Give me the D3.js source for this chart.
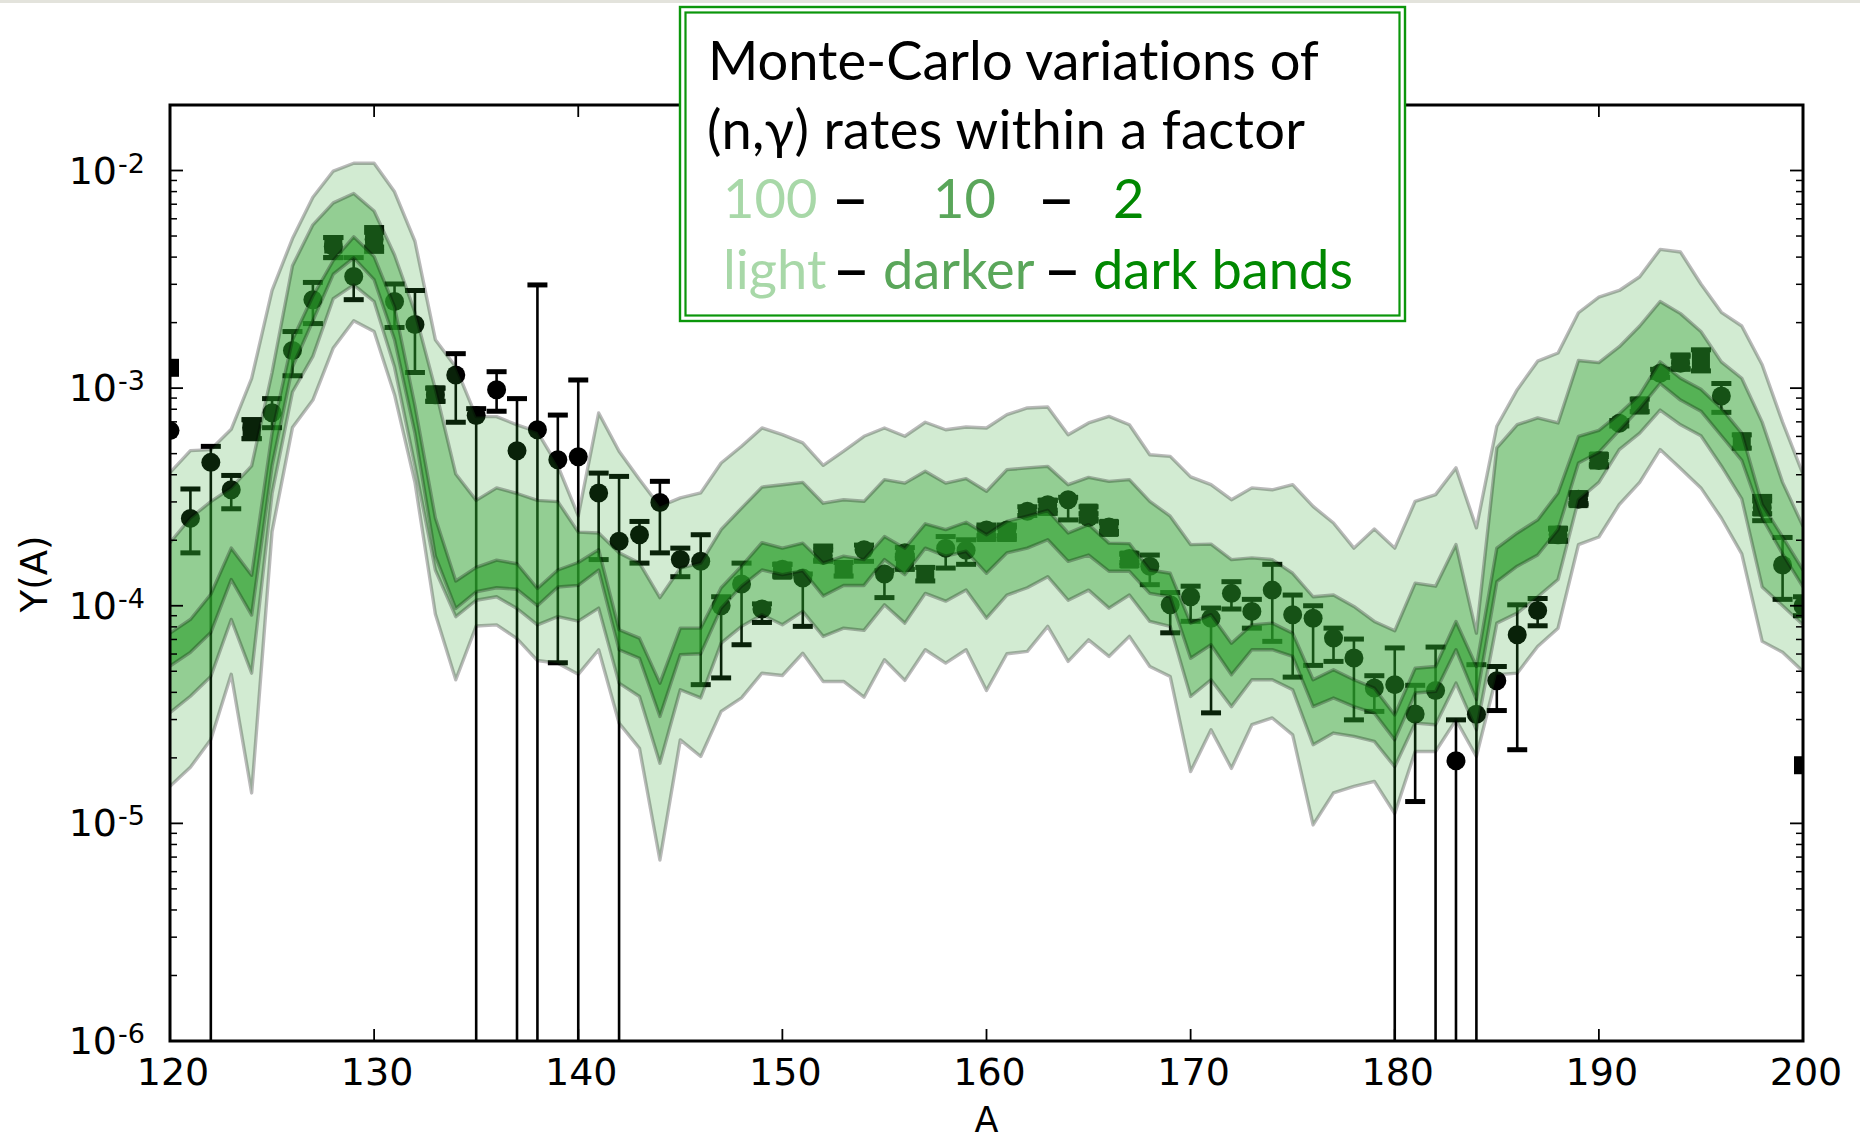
<!DOCTYPE html>
<html><head><meta charset="utf-8">
<script src="https://cdn.jsdelivr.net/npm/d3@7"></script>
<style>html,body{margin:0;padding:0;background:#fff;} svg{display:block}</style>
</head><body>
<svg id="chart" width="1860" height="1140"></svg>
<script>
// ---------------- data ----------------
const massNumbers = [120,121,122,123,124,125,126,127,128,129,130,131,132,133,134,135,136,137,138,139,140,
141,142,143,144,145,146,147,148,149,150,151,152,153,154,155,156,157,158,159,160,
161,162,163,164,165,166,167,168,169,170,171,172,173,174,175,176,177,178,179,180,
181,182,183,184,185,186,187,188,189,190,191,192,193,194,195,196,197,198,199,200];

// factor-100 band (light)
const lightUpper = [4.09e-4,5.16e-4,5.22e-4,6.47e-4,1.11e-3,2.81e-3,4.87e-3,7.53e-3,9.94e-3,1.08e-2,1.08e-2,
7.98e-3,4.73e-3,1.67e-3,1.25e-3,7.40e-4,7.40e-4,6.78e-4,6.29e-4,4.39e-4,2.59e-4,
7.69e-4,5.13e-4,3.80e-4,2.86e-4,3.13e-4,3.30e-4,4.53e-4,5.41e-4,6.56e-4,6.11e-4,
5.60e-4,4.42e-4,5.13e-4,6.01e-4,6.56e-4,6.01e-4,6.97e-4,6.44e-4,6.63e-4,6.56e-4,
7.55e-4,8.11e-4,8.19e-4,6.11e-4,6.92e-4,7.42e-4,6.79e-4,4.94e-4,4.86e-4,3.91e-4,
3.60e-4,3.07e-4,3.48e-4,3.41e-4,3.60e-4,2.86e-4,2.40e-4,1.84e-4,2.25e-4,1.84e-4,
3.02e-4,3.24e-4,4.30e-4,2.28e-4,6.68e-4,9.84e-4,1.33e-3,1.45e-3,2.22e-3,2.62e-3,
2.81e-3,3.25e-3,4.34e-3,4.22e-3,3.01e-3,2.23e-3,1.93e-3,1.28e-3,6.98e-4,4.03e-4];
const lightLower = [1.48e-5,1.81e-5,2.43e-5,4.84e-5,1.38e-5,2.19e-4,6.59e-4,8.81e-4,1.53e-3,2.04e-3,1.82e-3,
9.33e-4,3.69e-4,9.17e-5,4.57e-5,8.07e-5,8.17e-5,7.06e-5,5.60e-5,5.44e-5,4.84e-5,
6.28e-5,2.89e-5,2.21e-5,6.79e-6,2.42e-5,2.03e-5,3.27e-5,3.77e-5,4.90e-5,4.78e-5,
6.05e-5,4.49e-5,4.49e-5,3.80e-5,5.65e-5,4.54e-5,6.28e-5,5.45e-5,6.28e-5,4.08e-5,
6.02e-5,6.17e-5,8.04e-5,5.55e-5,6.97e-5,5.85e-5,7.23e-5,5.26e-5,4.73e-5,1.73e-5,
2.69e-5,1.79e-5,2.84e-5,3.05e-5,2.55e-5,9.84e-6,1.38e-5,1.48e-5,1.56e-5,1.11e-5,
2.14e-5,2.14e-5,2.99e-5,2.03e-5,4.82e-5,4.90e-5,6.50e-5,7.89e-5,1.91e-4,2.07e-4,
2.92e-4,3.69e-4,5.22e-4,4.27e-4,3.48e-4,2.53e-4,1.73e-4,6.86e-5,6.11e-5,4.99e-5];
// factor-10 band (darker)
const darkerUpper = [1.95e-4,2.53e-4,3.01e-4,3.48e-4,4.39e-4,1.18e-3,3.65e-3,5.63e-3,7.10e-3,7.84e-3,6.51e-3,
4.09e-3,2.23e-3,9.89e-4,4.03e-4,3.05e-4,3.48e-4,3.28e-4,3.05e-4,3.01e-4,2.18e-4,
2.16e-4,1.75e-4,1.57e-4,1.09e-4,1.49e-4,1.57e-4,2.24e-4,2.81e-4,3.51e-4,3.60e-4,
3.69e-4,2.96e-4,3.07e-4,3.02e-4,3.80e-4,3.66e-4,4.15e-4,3.66e-4,3.84e-4,3.36e-4,
4.22e-4,4.30e-4,4.37e-4,3.60e-4,3.89e-4,3.73e-4,3.80e-4,3.02e-4,2.58e-4,1.91e-4,
1.92e-4,1.63e-4,1.66e-4,1.63e-4,1.41e-4,1.10e-4,1.12e-4,9.93e-5,8.47e-5,7.67e-5,
1.27e-4,1.23e-4,1.91e-4,7.48e-5,5.31e-4,6.79e-4,7.30e-4,6.92e-4,1.34e-3,1.31e-3,
1.55e-3,1.93e-3,2.50e-3,2.20e-3,1.82e-3,1.32e-3,1.11e-3,6.98e-4,3.69e-4,2.32e-4];
const darkerLower = [3.23e-5,3.84e-5,4.73e-5,8.65e-5,4.90e-5,3.28e-4,9.60e-4,1.40e-3,2.58e-3,2.98e-3,2.50e-3,
1.25e-3,4.39e-4,1.46e-4,8.91e-5,1.06e-4,1.10e-4,9.71e-5,8.17e-5,8.91e-5,8.50e-5,
9.75e-5,4.41e-5,3.83e-5,1.89e-5,4.11e-5,3.77e-5,6.73e-5,8.04e-5,9.10e-5,8.18e-5,
9.42e-5,7.23e-5,7.89e-5,7.71e-5,1.01e-4,8.32e-5,1.14e-4,1.05e-4,1.18e-4,8.77e-5,
1.12e-4,1.21e-4,1.36e-4,1.06e-4,1.18e-4,9.75e-5,1.12e-4,8.47e-5,8.04e-5,3.83e-5,
4.57e-5,3.44e-5,4.57e-5,4.57e-5,4.11e-5,2.30e-5,2.60e-5,2.51e-5,2.38e-5,1.82e-5,
2.89e-5,2.84e-5,4.41e-5,2.69e-5,8.32e-5,9.25e-5,1.10e-4,1.32e-4,3.07e-4,3.69e-4,
5.22e-4,6.21e-4,7.93e-4,6.78e-4,6.04e-4,4.39e-4,3.10e-4,1.22e-4,1.00e-4,8.17e-5];
// factor-2 band (dark)
const darkUpper = [7.48e-5,8.65e-5,1.13e-4,1.84e-4,1.38e-4,6.21e-4,1.67e-3,2.65e-3,3.86e-3,4.96e-3,4.02e-3,
2.36e-3,8.30e-4,2.53e-4,1.30e-4,1.50e-4,1.62e-4,1.56e-4,1.20e-4,1.46e-4,1.58e-4,
1.81e-4,7.76e-5,7.10e-5,4.41e-5,7.89e-5,7.89e-5,1.21e-4,1.52e-4,1.95e-4,1.84e-4,
1.94e-4,1.57e-4,1.69e-4,1.63e-4,2.08e-4,1.84e-4,2.38e-4,2.24e-4,2.42e-4,2.12e-4,
2.44e-4,2.58e-4,2.74e-4,2.16e-4,2.36e-4,1.94e-4,1.93e-4,1.46e-4,1.41e-4,8.32e-5,
9.10e-5,6.73e-5,8.17e-5,8.32e-5,7.48e-5,4.57e-5,5.08e-5,4.57e-5,4.18e-5,3.15e-5,
5.16e-5,5.26e-5,8.47e-5,5.26e-5,1.84e-4,2.16e-4,2.48e-4,3.30e-4,6.00e-4,6.40e-4,
7.62e-4,9.33e-4,1.32e-3,1.11e-3,9.89e-4,8.07e-4,6.21e-4,2.92e-4,2.07e-4,1.46e-4];
const darkLower = [5.28e-5,6.11e-5,7.53e-5,1.32e-4,9.06e-5,4.39e-4,1.25e-3,2.04e-3,3.34e-3,3.97e-3,3.15e-3,
1.67e-3,6.21e-4,1.69e-4,9.71e-5,1.16e-4,1.21e-4,1.19e-4,1.00e-4,1.22e-4,1.24e-4,
1.46e-4,6.28e-5,5.74e-5,3.10e-5,5.96e-5,6.02e-5,9.75e-5,1.23e-4,1.46e-4,1.39e-4,
1.45e-4,1.11e-4,1.24e-4,1.24e-4,1.63e-4,1.39e-4,1.84e-4,1.69e-4,1.78e-4,1.41e-4,
1.75e-4,1.84e-4,2.01e-4,1.60e-4,1.71e-4,1.44e-4,1.44e-4,1.14e-4,1.10e-4,5.74e-5,
6.62e-5,4.82e-5,6.28e-5,6.28e-5,5.85e-5,3.44e-5,3.77e-5,3.44e-5,3.21e-5,2.42e-5,
3.97e-5,4.04e-5,6.28e-5,3.70e-5,1.29e-4,1.52e-4,1.71e-4,2.24e-4,4.53e-4,5.07e-4,
6.40e-4,8.07e-4,1.05e-3,8.81e-4,7.84e-4,6.04e-4,4.66e-4,2.53e-4,1.73e-4,1.22e-4];

// observed abundances, circles (value, upper and lower error limits; null = no bar)
const circleA  = [120,121,122,123,124,125,126,127,128,129,130,131,132,133,134,135,136,137,138,139,140,
141,142,143,144,145,146,147,148,149,150,151,152,154,155,156,158,159,160,161,162,163,164,165,166,167,
168,169,170,171,172,173,174,175,176,177,178,179,180,181,182,183,184,185,186,187,188,189,190,191,193,194,196,198,199,200];
const circleY  = [6.38e-4,2.52e-4,4.56e-4,3.41e-4,6.58e-4,7.71e-4,1.49e-3,2.55e-3,4.48e-3,3.26e-3,4.82e-3,2.50e-3,1.96e-3,9.33e-4,1.15e-3,7.48e-4,9.84e-4,5.16e-4,6.44e-4,4.69e-4,4.84e-4,
3.30e-4,1.98e-4,2.12e-4,2.98e-4,1.63e-4,1.60e-4,1.00e-4,1.26e-4,9.66e-5,1.47e-4,1.34e-4,1.70e-4,1.81e-4,1.40e-4,1.75e-4,1.84e-4,1.80e-4,2.23e-4,2.23e-4,2.72e-4,2.91e-4,3.07e-4,2.54e-4,2.30e-4,1.65e-4,
1.52e-4,1.01e-4,1.10e-4,8.77e-5,1.14e-4,9.42e-5,1.18e-4,9.10e-5,8.77e-5,7.10e-5,5.75e-5,4.19e-5,4.34e-5,3.18e-5,4.08e-5,1.94e-5,3.17e-5,4.52e-5,7.36e-5,9.51e-5,2.12e-4,3.09e-4,4.65e-4,6.89e-4,1.17e-3,1.30e-3,9.20e-4,2.83e-4,1.54e-4,9.97e-5];
const circleHi = [null,3.44e-4,5.40e-4,3.97e-4,7.16e-4,8.95e-4,1.82e-3,3.06e-3,4.92e-3,3.98e-3,5.47e-3,3.01e-3,2.81e-3,1.00e-3,1.44e-3,8.05e-4,1.19e-3,8.95e-4,2.98e-3,7.52e-4,1.09e-3,
4.07e-4,3.93e-4,2.44e-4,3.73e-4,1.84e-4,2.12e-4,1.10e-4,1.57e-4,1.02e-4,1.55e-4,1.40e-4,1.80e-4,1.90e-4,1.45e-4,1.85e-4,2.08e-4,2.01e-4,2.35e-4,2.35e-4,2.85e-4,3.05e-4,3.15e-4,2.65e-4,2.40e-4,1.72e-4,
1.71e-4,1.15e-4,1.23e-4,9.76e-5,1.29e-4,1.07e-4,1.55e-4,1.12e-4,1.00e-4,7.89e-5,7.03e-5,4.77e-5,6.40e-5,4.31e-5,6.46e-5,2.99e-5,5.36e-5,5.26e-5,1.01e-4,1.08e-4,2.25e-4,3.25e-4,4.85e-4,7.10e-4,1.22e-3,1.40e-3,1.05e-3,3.18e-4,2.06e-4,1.10e-4];
const circleLo = [null,1.75e-4,1e-7,2.79e-4,5.86e-4,6.58e-4,1.14e-3,1.98e-3,3.98e-3,2.55e-3,4.25e-3,1.90e-3,1.18e-3,8.70e-4,6.97e-4,1e-7,7.83e-4,1e-7,1e-7,5.47e-5,1e-7,
1.63e-4,1e-7,1.57e-4,1.75e-4,1.36e-4,4.34e-5,4.66e-5,6.62e-5,8.38e-5,1.38e-4,8.04e-5,1.60e-4,1.60e-4,1.09e-4,1.65e-4,1.49e-4,1.55e-4,2.10e-4,2.10e-4,2.60e-4,2.75e-4,2.48e-4,2.45e-4,2.20e-4,1.58e-4,
1.25e-4,7.51e-5,8.48e-5,3.22e-5,9.66e-5,7.89e-5,6.86e-5,4.70e-5,5.32e-5,5.55e-5,2.99e-5,3.27e-5,1e-7,1.26e-5,1e-7,1e-7,1e-7,3.30e-5,2.18e-5,8.09e-5,2.00e-4,2.95e-4,4.45e-4,6.70e-4,1.12e-3,1.22e-3,7.74e-4,2.46e-4,1.07e-4,9.00e-5];

// observed abundances, squares
const squareA  = [120,124,128,130,133,150,152,153,156,157,160,161,163,165,166,167,188,189,190,192,194,195,197,198,200];
const squareY  = [1.24e-3,6.60e-4,4.57e-3,4.82e-3,9.33e-4,1.45e-4,1.75e-4,1.47e-4,1.58e-4,1.40e-4,2.16e-4,2.16e-4,2.85e-4,2.68e-4,2.28e-4,1.63e-4,2.12e-4,3.09e-4,4.65e-4,8.32e-4,1.32e-3,1.34e-3,5.69e-4,2.83e-4,1.85e-5];
const squareHi = [null,7.16e-4,4.92e-3,5.20e-3,1.00e-3,1.55e-4,1.88e-4,1.58e-4,1.70e-4,1.50e-4,2.30e-4,2.30e-4,3.05e-4,2.85e-4,2.43e-4,1.74e-4,2.27e-4,3.30e-4,4.95e-4,8.90e-4,1.42e-3,1.50e-3,6.10e-4,3.03e-4,null];
const squareLo = [null,5.86e-4,3.98e-3,4.45e-3,8.70e-4,1.36e-4,1.62e-4,1.37e-4,1.47e-4,1.30e-4,2.02e-4,2.02e-4,2.66e-4,2.50e-4,2.14e-4,1.53e-4,1.98e-4,2.90e-4,4.38e-4,7.80e-4,1.23e-3,1.20e-3,5.30e-4,2.65e-4,null];

const xTicks = [120,130,140,150,160,170,180,190,200];
const yTickExponents = [-6,-5,-4,-3,-2];
const legendLines = ["Monte-Carlo variations of", "(n,\u03b3) rates within a factor"];
const legendRow3 = [["100","light"],["\u2013","dash"],["10","darker"],["\u2013","dash"],["2","dark"]];
const legendRow4 = [["light","light"],["\u2013","dash"],["darker","darker"],["\u2013","dash"],["dark bands","dark"]];

// ---------------- drawing ----------------
const svg = d3.select("#chart");
const P = {left:170, right:1803, top:105, bottom:1041};
const x = d3.scaleLinear().domain([120,200]).range([P.left,P.right]);
const y = d3.scaleLog().domain([1e-6,2e-2]).range([P.bottom,P.top]);

svg.append("rect").attr("width",1860).attr("height",1140).attr("fill","#fff");
svg.append("rect").attr("width",1860).attr("height",3).attr("fill","#e3e3dc");

svg.append("clipPath").attr("id","plotclip").append("rect")
  .attr("x",P.left).attr("y",P.top).attr("width",P.right-P.left).attr("height",P.bottom-P.top);
const plot = svg.append("g").attr("clip-path","url(#plotclip)");

// data points first (bands are drawn translucently on top of them)
const pts = plot.append("g");
function errorBars(A, V, Hi, Lo){
  A.forEach((a,i)=>{
    if(Hi[i]==null) return;
    const cx = x(a), y1 = y(Hi[i]), y2 = y(Lo[i]);
    pts.append("line").attr("x1",cx).attr("x2",cx).attr("y1",y1).attr("y2",y2)
      .attr("stroke","#000").attr("stroke-width",2.6);
    [y1,y2].forEach(yy=>pts.append("line").attr("x1",cx-10).attr("x2",cx+10)
      .attr("y1",yy).attr("y2",yy).attr("stroke","#000").attr("stroke-width",5));
  });
}
errorBars(squareA, squareY, squareHi, squareLo);
errorBars(circleA, circleY, circleHi, circleLo);
squareA.forEach((a,i)=>pts.append("rect").attr("x",x(a)-9).attr("y",y(squareY[i])-9)
  .attr("width",18).attr("height",18).attr("fill","#000"));
circleA.forEach((a,i)=>pts.append("circle").attr("cx",x(a)).attr("cy",y(circleY[i]))
  .attr("r",9.5).attr("fill","#000"));

// bands
const bands = [
  {up:lightUpper, lo:lightLower, alpha:0.21},
  {up:darkerUpper, lo:darkerLower, alpha:0.38},
  {up:darkUpper, lo:darkLower, alpha:0.6}
];
const idx = massNumbers.map((d,i)=>i);
bands.forEach(b=>{
  const area = d3.area().x(i=>x(massNumbers[i])).y0(i=>y(b.lo[i])).y1(i=>y(b.up[i]));
  plot.append("path").attr("d",area(idx)).attr("fill","rgb(44,160,44)").attr("fill-opacity",b.alpha);
  [b.up,b.lo].forEach(arr=>{
    const line = d3.line().x(i=>x(massNumbers[i])).y(i=>y(arr[i]));
    plot.append("path").attr("d",line(idx)).attr("fill","none")
      .attr("stroke","#000").attr("stroke-opacity",0.27).attr("stroke-width",3.4)
      .attr("stroke-linejoin","round");
  });
});

// axes frame and ticks
const ax = svg.append("g").attr("stroke","#000");
ax.append("rect").attr("x",P.left).attr("y",P.top).attr("width",P.right-P.left).attr("height",P.bottom-P.top)
  .attr("fill","none").attr("stroke-width",3);
xTicks.forEach(t=>{
  const xx = x(t);
  ax.append("line").attr("x1",xx).attr("x2",xx).attr("y1",P.bottom).attr("y2",P.bottom-12).attr("stroke-width",1.8);
  ax.append("line").attr("x1",xx).attr("x2",xx).attr("y1",P.top).attr("y2",P.top+12).attr("stroke-width",1.8);
});
yTickExponents.forEach(e=>{
  for(let m=1;m<=9;m++){
    const v = m*Math.pow(10,e);
    if(v<1e-6 || v>2e-2) continue;
    const yy = y(v), len = m===1?13:7, sw = m===1?1.8:1.5;
    ax.append("line").attr("x1",P.left).attr("x2",P.left+len).attr("y1",yy).attr("y2",yy).attr("stroke-width",sw);
    ax.append("line").attr("x1",P.right).attr("x2",P.right-len).attr("y1",yy).attr("y2",yy).attr("stroke-width",sw);
  }
});

// tick labels
const tf = "'DejaVu Sans', sans-serif";
xTicks.forEach(t=>{
  svg.append("text").attr("x",x(t)+3).attr("y",1085).attr("text-anchor","middle")
    .attr("font-family",tf).attr("font-size",38).text(t);
});
yTickExponents.forEach(e=>{
  const yy = y(Math.pow(10,e));
  svg.append("text").attr("x",117).attr("y",yy+13).attr("text-anchor","end")
    .attr("font-family",tf).attr("font-size",38).text("10");
  svg.append("text").attr("x",118).attr("y",yy+2).attr("text-anchor","start")
    .attr("font-family",tf).attr("font-size",27).text(String(e));
});
svg.append("text").attr("x",(P.left+P.right)/2).attr("y",1132).attr("text-anchor","middle")
  .attr("font-family",tf).attr("font-size",35).text("A");
svg.append("text").attr("transform","translate(47,574) rotate(-90)").attr("text-anchor","middle")
  .attr("font-family",tf).attr("font-size",37).text("Y(A)");

// legend box
const lg = svg.append("g").style("font-variant-ligatures","none");
lg.append("rect").attr("x",680).attr("y",7).attr("width",725).attr("height",314)
  .attr("fill","#fff").attr("stroke","#0b960b").attr("stroke-width",2.4);
lg.append("rect").attr("x",685.5).attr("y",12.5).attr("width",714).attr("height",303)
  .attr("fill","none").attr("stroke","#0b960b").attr("stroke-width",2.2);
const lf = "Lato, 'Open Sans', sans-serif";
const colors = {light:"#a8d8a8", darker:"#5aa65a", dark:"#008800", dash:"#000"};
const t1 = lg.append("text").attr("x",708).attr("y",80).attr("font-family",lf).attr("font-size",52).text(legendLines[0]);
let fs = 52;
const w1 = t1.node().getComputedTextLength();
if(w1>0){ fs = 52*611/w1; t1.attr("font-size",fs); }
const t2 = lg.append("text").attr("x",707).attr("y",149).attr("font-family",lf).attr("font-size",fs).text(legendLines[1]);
const w2 = t2.node().getComputedTextLength();
if(w2>0) t2.attr("textLength",598).attr("lengthAdjust","spacing");

// ink extent of the en dash, to stretch it to the reference width
const ctx = document.createElement("canvas").getContext("2d");
ctx.font = `700 ${fs}px Lato`;
const dm = ctx.measureText("\u2013");
let inkL = dm.actualBoundingBoxLeft || 0, inkW = (dm.actualBoundingBoxRight||0) + inkL;
if(!(inkW>2)){ inkW = fs*0.36; inkL = -fs*0.06; }
const dashW = 28, sx = dashW/inkW;

const row3x = [723,836,933,1042,1113];
const row4x = [723,837,883,1048,1093];
function legendRow(row, xs, baseline){
  row.forEach((s,i)=>{
    if(s[1]==="dash"){
      lg.append("text")
        .attr("transform",`translate(${xs[i]},${baseline}) scale(${sx},1) translate(${inkL},0)`)
        .attr("font-family",lf).attr("font-size",fs).attr("font-weight",700)
        .attr("fill",colors.dash).text(s[0]);
    } else {
      lg.append("text").attr("x",xs[i]).attr("y",baseline).attr("font-family",lf)
        .attr("font-size",fs).attr("fill",colors[s[1]]).text(s[0]);
    }
  });
}
legendRow(legendRow3, row3x, 218);
legendRow(legendRow4, row4x, 289);
</script>
</body></html>
